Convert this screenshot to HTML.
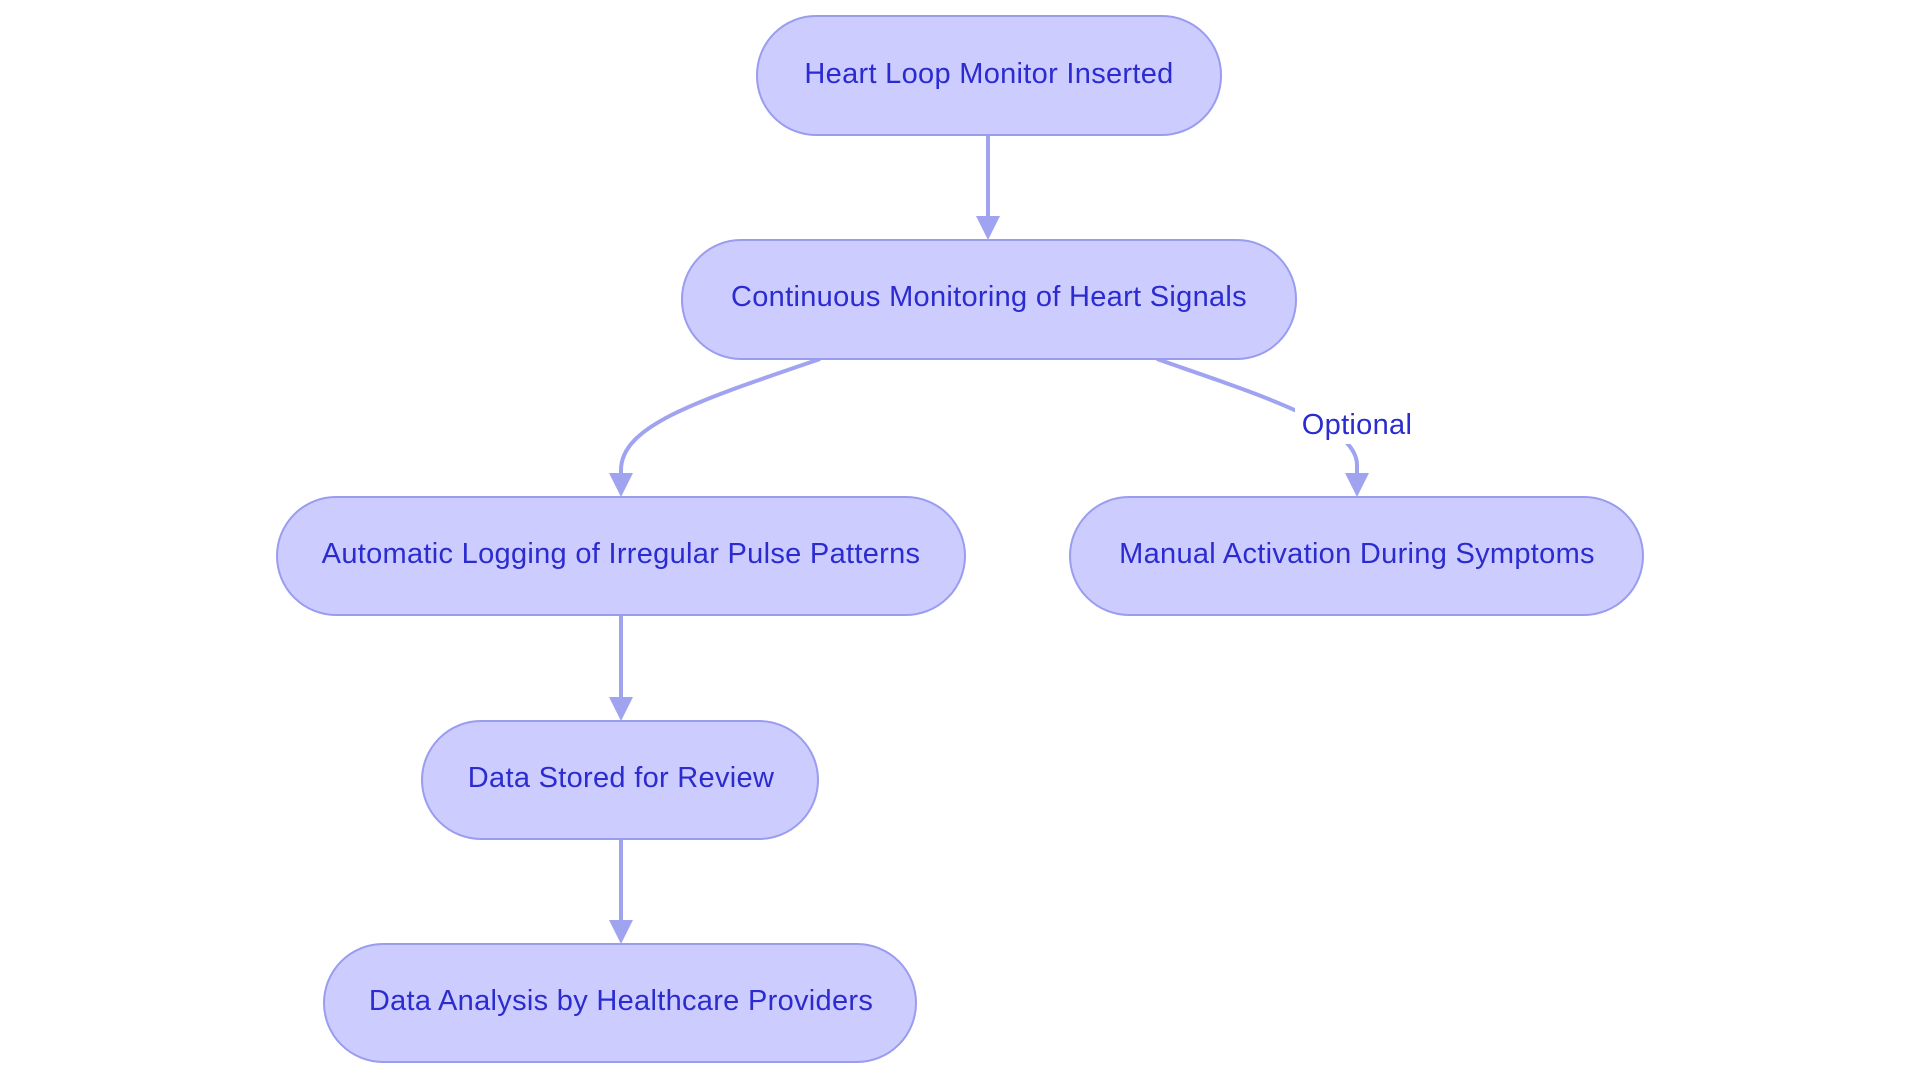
<!DOCTYPE html>
<html><head><meta charset="utf-8"><style>
body{margin:0;background:#fff;}
svg{display:block}
text{font-family:"Liberation Sans",sans-serif;font-size:29px;letter-spacing:0.3px;fill:#2b2bd0;text-anchor:middle;dominant-baseline:central}
.n{fill:#ccccff;stroke:#9a9cf0;stroke-width:2}
.e{fill:none;stroke:#9fa3f0;stroke-width:4}
.a{fill:#9fa3f0}
</style></head><body>
<svg width="1920" height="1083" viewBox="0 0 1920 1083">
<path class="e" d="M988 135 L988 222"/>
<polygon class="a" points="976,216 1000,216 988,240"/>
<path class="e" d="M820 359 C700 400 621 425 621 470 L621 478"/>
<polygon class="a" points="609,473 633,473 621,497"/>
<path class="e" d="M1157 359 C1260 395 1357 425 1357 465 L1357 478"/>
<polygon class="a" points="1345,473 1369,473 1357,497"/>
<rect x="1295" y="408" width="124" height="36" fill="#fff"/>
<text x="1357" y="425">Optional</text>
<path class="e" d="M621 615 L621 703"/>
<polygon class="a" points="609,697 633,697 621,721"/>
<path class="e" d="M621 839 L621 926"/>
<polygon class="a" points="609,920 633,920 621,944"/>
<rect class="n" x="757" y="16" width="464" height="119" rx="59"/>
<text x="989" y="74">Heart Loop Monitor Inserted</text>
<rect class="n" x="682" y="240" width="614" height="119" rx="59"/>
<text x="989" y="297">Continuous Monitoring of Heart Signals</text>
<rect class="n" x="277" y="497" width="688" height="118" rx="59"/>
<text x="621" y="554">Automatic Logging of Irregular Pulse Patterns</text>
<rect class="n" x="1070" y="497" width="573" height="118" rx="59"/>
<text x="1357" y="554">Manual Activation During Symptoms</text>
<rect class="n" x="422" y="721" width="396" height="118" rx="59"/>
<text x="621" y="778">Data Stored for Review</text>
<rect class="n" x="324" y="944" width="592" height="118" rx="59"/>
<text x="621" y="1001">Data Analysis by Healthcare Providers</text>
</svg>
</body></html>
